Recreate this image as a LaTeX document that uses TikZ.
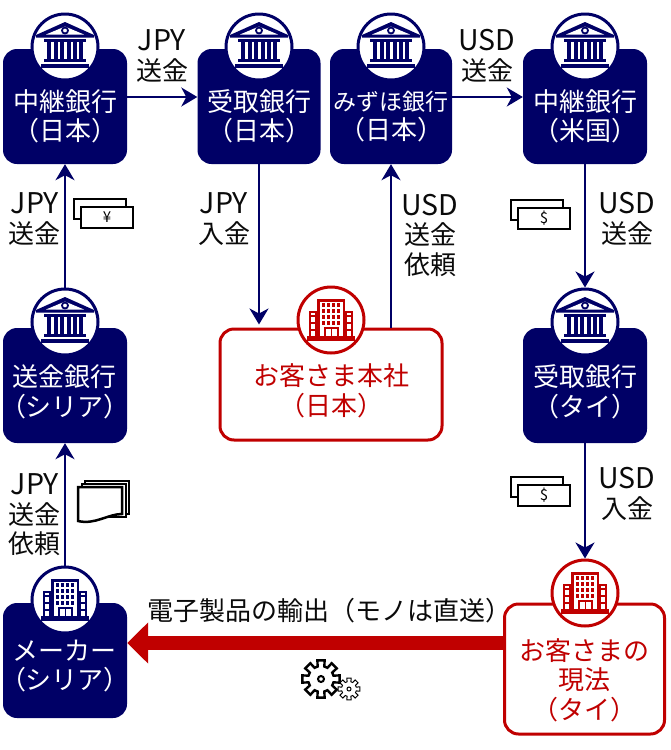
\documentclass[tikz,border=0pt]{standalone}
\usepackage{fontspec}
\setmainfont{Noto Sans CJK JP}
\usetikzlibrary{arrows.meta}
\definecolor{bknavy}{HTML}{000066}
\definecolor{bkred}{HTML}{C00000}
\definecolor{txtgray}{HTML}{0A0A0A}
\newcommand{\latn}[1]{{\fontsize{28.5}{30}\selectfont #1}}
\tikzset{
  every node/.style={font=\fontsize{26}{29.5}\selectfont, align=center, inner sep=0pt},
  navybox/.style={fill=bknavy, rounded corners=14pt, minimum width=124pt, minimum height=115pt},
  redbox/.style={draw=bkred, line width=3pt, fill=white, rounded corners=14pt},
  iconring/.style={circle, draw=#1, fill=white, line width=3pt, minimum size=66pt},
  boxtext/.style={text=white},
  redtext/.style={text=bkred},
  flowlabel/.style={text=txtgray},
  flow/.style={draw=bknavy, line width=2pt, -{Stealth[length=16pt,width=19pt,inset=5pt]}},
  bigflow/.style={draw=bkred, line width=14pt, -{Triangle[length=21pt,width=40pt]}},
  pics/bankicon/.style={code={
    \fill[bknavy] (0,-25) -- (29,-12) -- (29,-9.5) -- (-29,-9.5) -- (-29,-12) -- cycle;
    \fill[white] (0,-20.5) -- (19,-12.5) -- (-19,-12.5) -- cycle;
    \draw[bknavy, line width=1.8pt, fill=white] (0,-16.5) circle(3);
    \fill[bknavy] (-21,-8) rectangle (21,-5.5);
    \foreach \cx in {-18,-11.5,-5,1.5,8,14} \fill[bknavy] (\cx,-5.5) rectangle (\cx+4,12);
    \fill[bknavy] (-21,12) rectangle (21,14.5);
    \fill[bknavy] (-24,17) rectangle (24,20.5);
  }},
  pics/officeicon/.style={code={
    \fill[#1] (-14,-21) rectangle (14,17);
    \fill[#1] (-22,-9) rectangle (-14,17);
    \fill[#1] (14,-9) rectangle (22,17);
    \fill[white] (-11.5,-18.5) rectangle (11.5,17);
    \fill[white] (-20,-7) rectangle (-16,17);
    \fill[white] (16,-7) rectangle (20,17);
    \foreach \cx in {-10,-5,0,5} \foreach \cy in {-17,-11,-5,1}
      \fill[#1] (\cx+.5,\cy) rectangle (\cx+3.5,\cy+4);
    \foreach \cy in {-5,2,9} {
      \fill[#1] (-20,\cy) rectangle (-16,\cy+2);
      \fill[#1] (16,\cy) rectangle (20,\cy+2);
    }
    \draw[#1, line width=2pt] (-6.5,17) -- (-6.5,8) -- (6.5,8) -- (6.5,17);
    \draw[#1, line width=1pt] (0,8) -- (0,17);
    \fill[#1] (-24,16) rectangle (24,21);
  }},
  pics/billicon/.style={code={
    \draw[black, line width=2.5pt, fill=white] (0,0) rectangle (52,20);
    \draw[black, line width=2.5pt, fill=white] (7,8) rectangle (59,29);
    \node[text=black, font=\fontsize{15}{15}\selectfont] at (33,18.5) {#1};
  }},
  pics/gearicon/.style={code={
    \draw[black, line width=#1, fill=white, line join=miter]
      (-11:1) \foreach \ga in {0,45,...,315} { -- (\ga-11:1) -- (\ga+11:1) -- (\ga+15:.68) -- (\ga+30:.68) } -- cycle;
  }}
}

\begin{document}
\begin{tikzpicture}[x=1pt,y=-1pt]
    \useasboundingbox (0,0) rectangle (670,750);

    % top row
    \node[navybox] (relayjp) at (65,106.5) {};
    \node[navybox, minimum width=123pt] (recvjp) at (259,106.5) {};
    \node[navybox, minimum width=122pt] (mizuho) at (391,106.5) {};
    \node[navybox] (relayus) at (585,106.5) {};
    \node[iconring=bknavy] (iconrelayjp) at (65,47) {}; \pic at (iconrelayjp) {bankicon};
    \node[iconring=bknavy] (iconrecvjp) at (259,47) {}; \pic at (iconrecvjp) {bankicon};
    \node[iconring=bknavy] (iconmizuho) at (391,47) {}; \pic at (iconmizuho) {bankicon};
    \node[iconring=bknavy] (iconrelayus) at (585,47) {}; \pic at (iconrelayus) {bankicon};
    \node[boxtext] (txtrelayjp) at (65,116.5) {中継銀行\\（日本）};
    \node[boxtext] (txtrecvjp) at (259,116.5) {受取銀行\\（日本）};
    \node[boxtext] (txtmizuho) at (391,116.5) {{\fontsize{23}{29.5}\selectfont みずほ銀行}\\（日本）};
    \node[boxtext] (txtrelayus) at (585,116.5) {中継銀行\\（米国）};

    % middle row
    \node[navybox] (sendsy) at (65,385.5) {};
    \node[navybox] (recvth) at (585,385.5) {};
    \node[redbox, minimum width=222pt, minimum height=111pt] (hqjp) at (331,384.5) {};
    \node[iconring=bknavy] (iconsendsy) at (65,322) {}; \pic at (iconsendsy) {bankicon};
    \node[iconring=bknavy] (iconrecvth) at (585,322) {}; \pic at (iconrecvth) {bankicon};
    \node[iconring=bkred] (iconhqjp) at (331,320) {}; \pic at (iconhqjp) {officeicon=bkred};
    \node[boxtext] (txtsendsy) at (65,392) {送金銀行\\（シリア）};
    \node[boxtext] (txtrecvth) at (585,392) {受取銀行\\（タイ）};
    \node[redtext] (txthqjp) at (331,391) {お客さま本社\\（日本）};

    % bottom row
    \node[navybox] (maker) at (65,660.5) {};
    \node[redbox, minimum width=160pt, minimum height=130pt] (custth) at (584.5,669) {};
    \node[iconring=bknavy] (iconmaker) at (65,600) {}; \pic at (iconmaker) {officeicon=bknavy};
    \node[iconring=bkred] (iconcustth) at (585,593) {}; \pic at (iconcustth) {officeicon=bkred};
    \node[boxtext] (txtmaker) at (65,666) {メーカー\\（シリア）};
    \node[redtext] (txtcustth) at (584.5,680) {お客さまの\\現法\\（タイ）};

    % connectors
    \draw[flow] ([yshift=9.5pt]relayjp.east) -- ([yshift=9.5pt]recvjp.west);
    \draw[flow] ([yshift=9.5pt]mizuho.east) -- ([yshift=9.5pt]relayus.west);
    \draw[flow] (iconsendsy.north) -- (relayjp.south);
    \draw[flow, shorten >=3pt] (recvjp.south) -- (recvjp.south |- hqjp.north);
    \draw[flow] (mizuho.south |- hqjp.north) -- (mizuho.south);
    \draw[flow] (relayus.south) -- (iconrecvth.north);
    \draw[flow] (recvth.south) -- (iconcustth.north);
    \draw[flow] (iconmaker.north) -- (sendsy.south);
    \draw[bigflow] ([yshift=26pt]custth.west) -- ([yshift=17.5pt]maker.east);

    % labels
    \node[flowlabel] (lbljpyA) at (162,56) {\latn{JPY}\\送金};
    \node[flowlabel] (lblusdA) at (487,56) {\latn{USD}\\送金};
    \node[flowlabel] (lbljpyB) at (35,219) {\latn{JPY}\\送金};
    \node[flowlabel] (lbljpyC) at (224,219) {\latn{JPY}\\入金};
    \node[flowlabel] (lblusdB) at (430,235) {\latn{USD}\\送金\\依頼};
    \node[flowlabel] (lblusdC) at (627,219) {\latn{USD}\\送金};
    \node[flowlabel] (lblusdD) at (627,494) {\latn{USD}\\入金};
    \node[flowlabel] (lbljpyD) at (35,515) {\latn{JPY}\\送金\\依頼};
    \node[flowlabel] (lblexport) at (329,611) {電子製品の輸出（モノは直送）};

    % bills, documents, gears
    \pic at (74,199) {billicon=¥};
    \pic at (511,200) {billicon=\$};
    \pic at (511,477) {billicon=\$};
    \draw[black, line width=2.5pt, fill=white] (85,481) rectangle (129,514);
    \draw[black, line width=2.5pt, fill=white] (82,484) rectangle (126,517);
    \draw[black, line width=2.5pt, fill=white] (78,487) -- (122,487) -- (122,514)
      .. controls (108,514) and (95,525) .. (78,521) -- cycle;
    \pic[scale=19] at (321,679) {gearicon=2.4pt};
    \draw[black, line width=2pt, fill=white] (321,679) circle(3);
    \pic[scale=11] at (349,689) {gearicon=1pt};
    \draw[black, line width=1pt, fill=white] (349,689) circle(2);
\end{tikzpicture}
\end{document}
